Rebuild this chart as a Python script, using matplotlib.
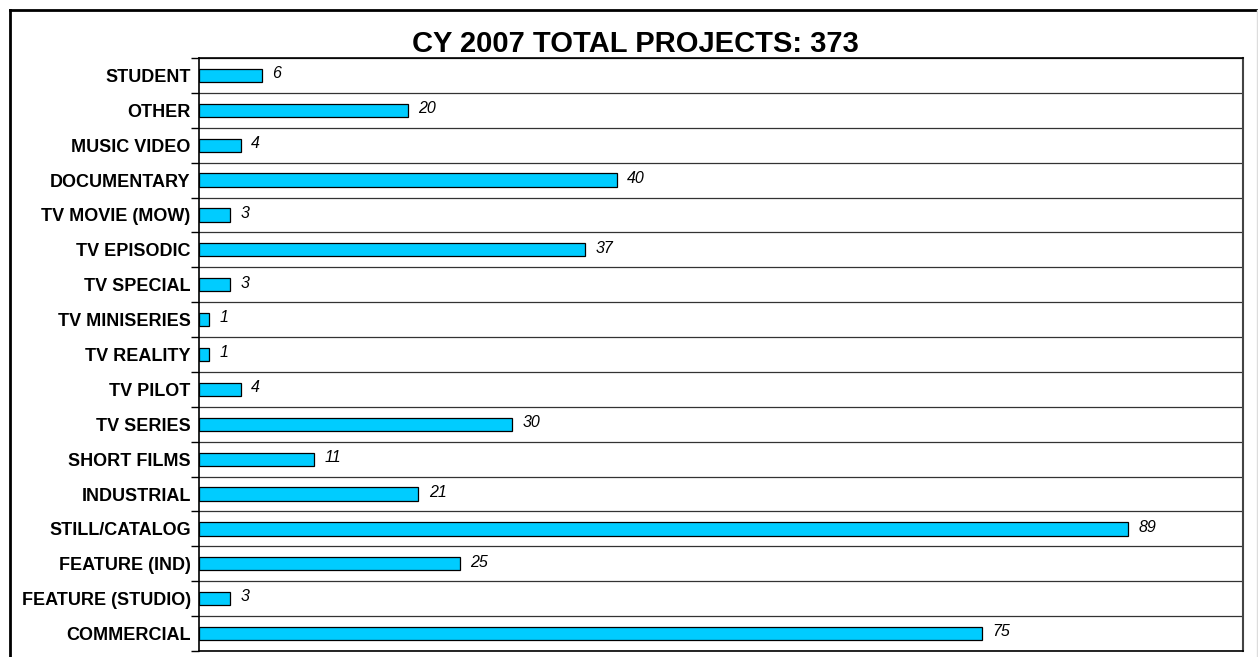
import numpy as np
import matplotlib
matplotlib.use("Agg")
import matplotlib.pyplot as plt
from matplotlib.lines import Line2D

plt.rcParams['font.family'] = ['Liberation Sans', 'DejaVu Sans']

# categories from bottom to top
categories = ["COMMERCIAL", "FEATURE (STUDIO)", "FEATURE (IND)", "STILL/CATALOG",
              "INDUSTRIAL", "SHORT FILMS", "TV SERIES", "TV PILOT", "TV REALITY",
              "TV MINISERIES", "TV SPECIAL", "TV EPISODIC", "TV MOVIE (MOW)",
              "DOCUMENTARY", "MUSIC VIDEO", "OTHER", "STUDENT"]
projects = [75, 3, 25, 89, 21, 11, 30, 4, 1, 1, 3, 37, 3, 40, 4, 20, 6]
title = "CY 2007 TOTAL PROJECTS: 373"

fig = plt.figure(figsize=(12.58, 6.57), dpi=100)
ax = fig.add_axes([0.1582, 0.0091, 0.8300, 0.9026])

y = np.arange(len(categories))
ax.barh(y, projects, height=0.38, color="#00CCFF", edgecolor="black", linewidth=0.9, zorder=3)

# value labels
for yi, v in zip(y, projects):
    ax.text(v + 1.0, yi + 0.05, str(v), va="center", ha="left",
            fontsize=11.5, fontstyle="italic", color="black")

ax.set_xlim(0, 100)
ax.set_ylim(-0.5, len(categories) - 0.5)
ax.set_yticks(y)
ax.set_yticklabels(categories, fontsize=13, fontweight="bold")
ax.tick_params(axis="y", which="major", length=0, pad=6)
ax.set_yticks(np.arange(len(categories) + 1) - 0.5, minor=True)
ax.tick_params(axis="y", which="minor", length=6, width=1, direction="out")
ax.set_xticks([])
ax.grid(axis="y", which="minor", color="#333333", linewidth=0.9, zorder=1)

for s in ["left", "bottom"]:
    ax.spines[s].set_linewidth(1.2)
ax.spines["top"].set_linewidth(1.2)
ax.spines["right"].set_linewidth(1.5)
ax.spines["right"].set_color("#444444")

fig.text(0.505, 0.933, title, ha="center", va="center", fontsize=21, fontweight="bold")

# outer frame
fx = 9.5 / 1258
fy = 1 - 9.5 / 657
fig.add_artist(Line2D([fx, fx], [0, fy], color="black", linewidth=2, transform=fig.transFigure))
fig.add_artist(Line2D([fx, 1], [fy, fy], color="black", linewidth=2, transform=fig.transFigure))
fig.add_artist(Line2D([1257 / 1258, 1257 / 1258], [0, fy], color="#dddddd", linewidth=1, transform=fig.transFigure))

fig.savefig("out.png", dpi=100)
